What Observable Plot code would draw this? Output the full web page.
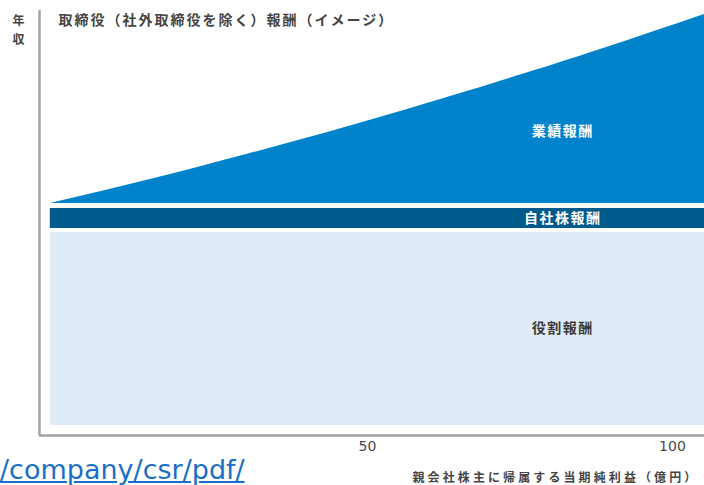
<!DOCTYPE html>
<html>
<head>
<meta charset="utf-8">
<script src="https://cdn.jsdelivr.net/npm/d3@7"></script>
<script src="https://cdn.jsdelivr.net/npm/@observablehq/plot@0.6"></script>
<style>
  html, body { margin: 0; padding: 0; background: #fff; }
  #wrap { position: relative; width: 704px; height: 485px; overflow: hidden; }
  #link { position: absolute; left: 0px; top: 456px; font-family: "DejaVu Sans", sans-serif; font-size: 27px; line-height: 1; color: #1a6fc4; text-decoration: underline; white-space: nowrap; }
</style>
</head>
<body>
<div id="wrap"><div id="link">/company/csr/pdf/</div></div>
<script>
// Illustrative chart: x = profit attributable to owners of parent (100 million yen), y = annual compensation (index)
const title = "取締役（社外取締役を除く）報酬（イメージ）";
const yLabel = "年\n収";
const xLabel = "親会社株主に帰属する当期純利益（億円）";
const xTicks = [50, 100];

// Fixed bands (low/high in compensation index)
const bandNames = ["役割報酬", "自社株報酬"];
const bandLow = [10, 207];
const bandHigh = [203, 227];
const bandStart = -2;
const bandEnd = 105.25;

// Performance-linked pay (業績報酬) upper edge vs profit
const profit = [-2, 14.4, 30.8, 47.2, 63.6, 75.9, 88.2, 105.25];
const perfTop = [232, 256, 282, 309.5, 339, 362, 386, 421];
const perfBase = 232;

const labelNames = ["業績報酬", "自社株報酬", "役割報酬"];
const labelX = [82, 82, 82];
const labelY = [304, 217, 107];

const xMin = -3.77, xMax = 105.25;

const bands = bandNames.map((n, i) => ({name: n, lo: bandLow[i], hi: bandHigh[i], x1: bandStart, x2: bandEnd}));
const perf = profit.map((p, i) => ({x: p, y1: perfBase, y2: perfTop[i]}));
const labels = labelNames.map((n, i) => ({name: n, x: labelX[i], y: labelY[i]}));

const jp = "'Noto Sans CJK JP', sans-serif";

const chart = Plot.plot({
  width: 704,
  height: 485,
  marginLeft: 39,
  marginRight: 0,
  marginTop: 10,
  marginBottom: 50,
  style: {background: "transparent", fontFamily: "DejaVu Sans, sans-serif"},
  x: {domain: [xMin, xMax], axis: null},
  y: {domain: [0, 425], axis: null},
  color: {domain: bandNames, range: ["#dfebf7", "#005a8c"]},
  marks: [
    Plot.rect(bands, {x1: "x1", x2: "x2", y1: "lo", y2: "hi", fill: "name"}),
    Plot.areaY(perf, {x: "x", y1: "y1", y2: "y2", fill: "#0083cb", curve: "natural"}),
    Plot.text(labels, {x: "x", y: "y", text: "name", fontSize: 14, fontWeight: "bold", fontFamily: jp,
      fill: d => d.name === "役割報酬" ? "#3a3a3a" : "#ffffff"}),
    Plot.ruleY([0], {stroke: "#a3a3a3", strokeWidth: 2.5}),
    Plot.ruleX([xMin], {y1: 0, y2: 425, stroke: "#a3a3a3", strokeWidth: 2.5}),
    Plot.axisX(xTicks, {tickSize: 0, tickPadding: 6, fontSize: 14, fill: "#4a4a4a", stroke: null}),
    Plot.text([title], {frameAnchor: "top-left", dx: 19, dy: 10, textAnchor: "start", lineAnchor: "middle",
      fontSize: 14, fontWeight: "bold", fontFamily: jp, fill: "#444"}),
    Plot.text([yLabel], {frameAnchor: "top-left", dx: -21, dy: 17.5, textAnchor: "middle", lineAnchor: "middle", lineHeight: 1.58,
      fontSize: 12, fontWeight: "bold", fontFamily: jp, fill: "#444"}),
    Plot.text([xLabel], {frameAnchor: "bottom-left", dx: 373, dy: 43, textAnchor: "start", lineAnchor: "middle",
      fontSize: 12, fontWeight: "bold", fontFamily: jp, fill: "#444"})
  ]
});
// letter spacing for Japanese texts
const spacing = new Map([[title, "2px"], [xLabel, "3.1px"], ["業績報酬", "1.5px"], ["自社株報酬", "1.5px"], ["役割報酬", "1.5px"]]);
d3.select(chart).selectAll("text").each(function() {
  const s = spacing.get(this.textContent);
  if (s) this.setAttribute("letter-spacing", s);
});
document.getElementById("wrap").prepend(chart);
</script>
</body>
</html>
